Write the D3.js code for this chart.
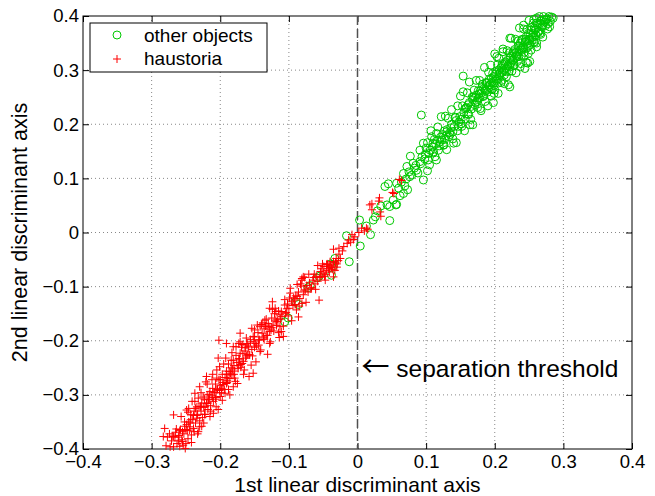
<!DOCTYPE html>
<html>
<head>
<meta charset="utf-8">
<script src="https://cdn.jsdelivr.net/npm/d3@7"></script>
<style>
  body { margin: 0; background: #fff; }
  svg text { font-family: "Liberation Sans", Arial, Helvetica, sans-serif; fill: #000; }
</style>
</head>
<body>
<div id="chart"></div>
<script>
// data: [1st axis, 2nd axis]
var otherObjects = [
  [-0.106,-0.165],[-0.101,-0.158],[-0.090,-0.128],[-0.086,-0.133],[-0.072,-0.102],[-0.069,-0.098],
  [-0.059,-0.084],[-0.056,-0.081],[-0.038,-0.079],[-0.035,-0.061],[-0.039,-0.058],[-0.033,-0.048],
  [-0.012,-0.054],[-0.016,-0.006],[0.004,-0.025],[0.019,-0.004],[0.013,0.012],[0.003,0.023],
  [0.026,0.029],[0.034,0.049],[0.043,0.051],[0.056,0.051],[0.047,0.022],[0.023,0.023],
  [0.029,0.040],[0.040,0.085],[0.045,0.090],[0.057,0.091],[0.052,0.060],[0.057,0.052],
  [0.047,0.048],[0.062,0.068],[0.067,0.072],[0.073,0.079],[0.067,0.109],[0.072,0.122],
  [0.076,0.103],[0.081,0.128],[0.077,0.141],[0.086,0.115],[0.091,0.131],[0.096,0.097],
  [0.102,0.114],[0.103,0.134],[0.091,0.152],[0.096,0.165],[0.100,0.156],[0.093,0.217],
  [0.110,0.165],[0.108,0.177],[0.113,0.140],[0.115,0.183],[0.118,0.152],[0.123,0.171],
  [0.126,0.162],[0.130,0.186],[0.133,0.177],[0.128,0.215],[0.136,0.193],[0.140,0.165],
  [0.060,0.082],[0.064,0.093],[0.069,0.086],[0.071,0.099],[0.075,0.112],[0.079,0.106],
  [0.083,0.119],[0.085,0.124],[0.088,0.110],[0.092,0.127],[0.094,0.140],[0.098,0.136],
  [0.099,0.145],[0.104,0.146],[0.106,0.152],[0.109,0.158],[0.111,0.149],[0.114,0.163],
  [0.116,0.170],[0.119,0.160],[0.121,0.176],[0.124,0.181],[0.127,0.172],[0.129,0.179],
  [0.131,0.190],[0.134,0.184],[0.137,0.200],[0.139,0.186],[0.143,0.213],[0.147,0.196],
  [0.141,0.196],[0.144,0.207],[0.146,0.188],[0.149,0.214],[0.151,0.201],[0.154,0.260],
  [0.154,0.289],[0.155,0.222],[0.157,0.210],[0.159,0.231],[0.161,0.219],[0.163,0.240],
  [0.164,0.199],[0.166,0.228],[0.168,0.245],[0.169,0.251],[0.171,0.236],[0.173,0.254],
  [0.174,0.242],[0.176,0.262],[0.178,0.249],[0.179,0.229],[0.181,0.258],[0.182,0.270],
  [0.184,0.253],[0.186,0.264],[0.187,0.277],[0.189,0.259],[0.191,0.271],[0.192,0.283],
  [0.194,0.266],[0.195,0.252],[0.196,0.278],[0.198,0.240],[0.198,0.288],[0.199,0.272],
  [0.200,0.263],[0.201,0.293],[0.203,0.283],[0.203,0.325],[0.205,0.276],[0.206,0.300],
  [0.207,0.289],[0.209,0.304],[0.210,0.281],[0.211,0.296],[0.212,0.334],[0.213,0.310],
  [0.214,0.291],[0.216,0.303],[0.217,0.288],[0.218,0.318],[0.219,0.307],[0.221,0.298],
  [0.222,0.269],[0.222,0.306],[0.222,0.359],[0.223,0.325],[0.224,0.314],[0.226,0.331],
  [0.227,0.319],[0.228,0.308],[0.229,0.338],[0.231,0.327],[0.232,0.325],[0.233,0.316],
  [0.234,0.345],[0.235,0.334],[0.237,0.306],[0.237,0.350],[0.238,0.339],[0.239,0.327],
  [0.240,0.357],[0.242,0.343],[0.242,0.383],[0.243,0.333],[0.244,0.303],[0.245,0.352],
  [0.246,0.362],[0.247,0.341],[0.248,0.313],[0.249,0.331],[0.249,0.368],[0.250,0.355],
  [0.251,0.316],[0.252,0.347],[0.253,0.374],[0.254,0.360],[0.256,0.368],[0.256,0.387],
  [0.257,0.352],[0.258,0.378],[0.260,0.365],[0.261,0.350],[0.261,0.396],[0.262,0.384],
  [0.264,0.372],[0.266,0.368],[0.267,0.391],[0.269,0.380],[0.270,0.383],[0.271,0.399],
  [0.273,0.389],[0.275,0.393],[0.278,0.386],[0.280,0.380],[0.283,0.398],[0.285,0.396],
  [0.102,0.166],[0.105,0.125],[0.107,0.188],[0.110,0.147],[0.112,0.172],[0.115,0.134],
  [0.117,0.195],[0.120,0.167],[0.122,0.214],[0.125,0.161],[0.127,0.188],[0.130,0.153],
  [0.132,0.211],[0.135,0.181],[0.137,0.227],[0.139,0.173],[0.142,0.212],[0.144,0.166],
  [0.146,0.234],[0.148,0.204],[0.150,0.252],[0.152,0.196],[0.153,0.234],[0.156,0.188],
  [0.158,0.230],[0.160,0.258],[0.162,0.218],[0.163,0.278],[0.165,0.209],[0.167,0.250],
  [0.168,0.199],[0.170,0.263],[0.172,0.240],[0.173,0.281],[0.175,0.231],[0.177,0.256],
  [0.178,0.281],[0.180,0.225],[0.182,0.274],[0.183,0.251],[0.185,0.305],[0.186,0.242],
  [0.188,0.276],[0.190,0.234],[0.191,0.296],[0.193,0.273],[0.194,0.309],[0.196,0.264],
  [0.197,0.294],[0.199,0.257],[0.200,0.330],[0.202,0.280],[0.204,0.310],[0.205,0.257],
  [0.206,0.322],[0.208,0.295],[0.209,0.277],[0.211,0.312],[0.212,0.339],[0.214,0.275],
  [0.215,0.312],[0.217,0.297],[0.218,0.336],[0.220,0.273],[0.221,0.332],[0.223,0.312],
  [0.224,0.359],[0.225,0.298],[0.227,0.334],[0.228,0.309],[0.230,0.357],[0.231,0.295],
  [0.232,0.334],[0.234,0.354],[0.235,0.325],[0.236,0.378],[0.238,0.312],[0.239,0.355],
  [0.241,0.341],[0.242,0.376],[0.243,0.327],[0.245,0.357],[0.246,0.314],[0.247,0.375],
  [0.249,0.344],[0.250,0.392],[0.251,0.358],[0.253,0.337],[0.254,0.379],[0.255,0.356],
  [0.257,0.394],[0.258,0.351],[0.259,0.374],[0.261,0.343],[0.262,0.387],[0.264,0.371],
  [0.265,0.399],[0.267,0.366],[0.268,0.391],[0.270,0.361],[0.272,0.393],[0.274,0.382],
  [0.276,0.395],[0.277,0.376],[0.279,0.399],[0.281,0.390],
  [0.151,0.209],[0.157,0.228],[0.161,0.236],[0.166,0.233],[0.171,0.249],[0.176,0.248],
  [0.179,0.262],[0.184,0.266],[0.187,0.262],[0.189,0.277],[0.192,0.268],[0.195,0.285],
  [0.198,0.276],[0.201,0.284],[0.203,0.299],[0.207,0.292],[0.210,0.307],[0.213,0.299],
  [0.216,0.315],[0.219,0.308],[0.222,0.322],[0.226,0.318],[0.229,0.331],[0.233,0.327],
  [0.236,0.344],[0.240,0.337],[0.244,0.352],[0.248,0.349],[0.252,0.366],[0.256,0.361],
  [0.260,0.377],[0.263,0.369],[0.266,0.386]
];

var haustoria = [
  [0.064,0.096],[0.061,0.098],[0.051,0.074],[0.053,0.072],[0.032,0.064],[0.031,0.058],
  [0.021,0.053],[0.021,0.042],[0.033,0.038],[0.034,0.030],[0.018,0.051],[0.015,0.006],
  [0.013,0.008],[0.010,0.003],[-0.004,-0.008],[-0.006,-0.013],[-0.013,-0.014],[-0.015,-0.020],
  [-0.020,-0.026],[-0.027,-0.029],[-0.035,-0.031],[-0.025,-0.048],[-0.028,-0.052],[-0.032,-0.056],
  [-0.035,-0.054],[-0.040,-0.060],[-0.038,-0.065],[-0.043,-0.062],[-0.045,-0.070],[-0.041,-0.073],
  [-0.036,-0.068],[-0.030,-0.064],[-0.047,-0.078],[-0.035,-0.082],[-0.047,-0.088],[-0.050,-0.075],
  [-0.053,-0.081],[-0.056,-0.125],[-0.079,-0.082],[-0.081,-0.088],[-0.077,-0.083],[-0.081,-0.085],
  [-0.058,-0.090],[-0.062,-0.095],[-0.065,-0.088],[-0.067,-0.102],[-0.070,-0.093],[-0.072,-0.110],
  [-0.074,-0.098],[-0.076,-0.106],[-0.083,-0.095],[-0.086,-0.110],[-0.090,-0.117],[-0.060,-0.081],
  [-0.063,-0.077],[-0.052,-0.067],[-0.054,-0.072],[-0.049,-0.063],
  [-0.030,-0.058],[-0.033,-0.070],[-0.037,-0.062],[-0.040,-0.054],[-0.042,-0.067],[-0.044,-0.058],
  [-0.031,-0.048],[-0.027,-0.040],[-0.022,-0.034],[-0.010,-0.018],[-0.008,-0.004],[0.002,0.000],
  [0.006,0.008],
  [-0.098,-0.103],[-0.098,-0.112],[-0.079,-0.115],[-0.081,-0.131],[-0.089,-0.143],[-0.086,-0.156],
  [-0.084,-0.122],[-0.088,-0.118],[-0.092,-0.125],[-0.094,-0.135],[-0.096,-0.128],[-0.100,-0.140],
  [-0.102,-0.132],[-0.104,-0.148],[-0.106,-0.134],[-0.108,-0.192],[-0.110,-0.155],[-0.111,-0.183],
  [-0.113,-0.152],[-0.113,-0.174],[-0.115,-0.145],[-0.117,-0.160],[-0.118,-0.165],[-0.120,-0.162],
  [-0.121,-0.150],[-0.123,-0.171],[-0.124,-0.128],[-0.125,-0.158],[-0.126,-0.180],[-0.128,-0.140],
  [-0.128,-0.183],[-0.130,-0.168],[-0.132,-0.174],[-0.133,-0.190],[-0.135,-0.162],[-0.136,-0.178],
  [-0.137,-0.195],[-0.139,-0.186],[-0.140,-0.170],[-0.142,-0.174],[-0.142,-0.220],[-0.144,-0.199],
  [-0.145,-0.185],[-0.147,-0.210],[-0.149,-0.205],[-0.150,-0.193],[-0.152,-0.192],[-0.152,-0.260],
  [-0.154,-0.177],[-0.154,-0.216],[-0.156,-0.202],[-0.158,-0.226],[-0.159,-0.211],[-0.161,-0.205],
  [-0.161,-0.208],[-0.163,-0.232],[-0.164,-0.219],[-0.166,-0.238],[-0.167,-0.224],[-0.169,-0.212],
  [-0.170,-0.244],[-0.171,-0.186],[-0.171,-0.202],[-0.171,-0.223],[-0.173,-0.233],[-0.174,-0.251],
  [-0.176,-0.240],[-0.177,-0.227],[-0.179,-0.256],[-0.180,-0.246],[-0.181,-0.211],[-0.181,-0.236],
  [-0.181,-0.285],[-0.183,-0.263],[-0.184,-0.250],[-0.186,-0.270],[-0.187,-0.257],[-0.188,-0.243],
  [-0.190,-0.274],[-0.191,-0.205],[-0.191,-0.262],[-0.191,-0.279],[-0.193,-0.268],[-0.194,-0.290],
  [-0.196,-0.277],[-0.197,-0.262],[-0.198,-0.296],[-0.200,-0.283],[-0.200,-0.303],[-0.202,-0.199],
  [-0.202,-0.272],[-0.203,-0.232],[-0.204,-0.290],[-0.205,-0.254],[-0.206,-0.305],[-0.207,-0.280],
  [-0.208,-0.296],[-0.210,-0.312],[-0.210,-0.334],[-0.211,-0.288],[-0.212,-0.302],[-0.214,-0.320],
  [-0.215,-0.294],[-0.216,-0.309],[-0.218,-0.327],[-0.219,-0.300],[-0.220,-0.266],[-0.220,-0.316],
  [-0.222,-0.336],[-0.223,-0.308],[-0.224,-0.323],[-0.226,-0.342],[-0.227,-0.315],[-0.228,-0.330],
  [-0.230,-0.285],[-0.230,-0.348],[-0.230,-0.359],[-0.231,-0.322],[-0.232,-0.368],[-0.234,-0.322],
  [-0.234,-0.338],[-0.236,-0.352],[-0.237,-0.297],[-0.238,-0.330],[-0.239,-0.362],[-0.240,-0.345],
  [-0.242,-0.374],[-0.243,-0.336],[-0.244,-0.359],[-0.246,-0.350],[-0.247,-0.381],[-0.248,-0.366],
  [-0.249,-0.328],[-0.250,-0.390],[-0.251,-0.399],[-0.252,-0.358],[-0.253,-0.372],[-0.255,-0.386],
  [-0.256,-0.383],[-0.258,-0.364],[-0.259,-0.395],[-0.261,-0.378],[-0.263,-0.390],[-0.265,-0.369],
  [-0.268,-0.337],[-0.268,-0.377],[-0.268,-0.396],[-0.271,-0.385],[-0.274,-0.372],[-0.281,-0.362],
  [-0.283,-0.377],
  [-0.045,-0.059],[-0.048,-0.081],[-0.051,-0.058],[-0.055,-0.083],[-0.058,-0.061],[-0.061,-0.105],
  [-0.064,-0.083],[-0.068,-0.104],[-0.071,-0.077],[-0.075,-0.129],[-0.078,-0.108],[-0.082,-0.099],
  [-0.085,-0.136],[-0.088,-0.096],[-0.091,-0.133],[-0.093,-0.121],[-0.096,-0.163],[-0.099,-0.121],
  [-0.101,-0.154],[-0.103,-0.141],[-0.106,-0.124],[-0.108,-0.173],[-0.111,-0.146],[-0.114,-0.194],
  [-0.116,-0.164],[-0.119,-0.146],[-0.122,-0.182],[-0.124,-0.142],[-0.127,-0.202],[-0.129,-0.174],
  [-0.131,-0.225],[-0.134,-0.173],[-0.136,-0.198],[-0.138,-0.167],[-0.141,-0.217],[-0.143,-0.198],
  [-0.146,-0.171],[-0.148,-0.239],[-0.151,-0.202],[-0.153,-0.228],[-0.156,-0.198],[-0.158,-0.266],
  [-0.160,-0.226],[-0.163,-0.213],[-0.165,-0.254],[-0.168,-0.207],[-0.170,-0.249],[-0.172,-0.234],
  [-0.175,-0.279],[-0.177,-0.211],[-0.179,-0.269],[-0.182,-0.252],[-0.184,-0.236],[-0.186,-0.300],
  [-0.189,-0.269],[-0.191,-0.256],[-0.193,-0.297],[-0.195,-0.243],[-0.198,-0.288],[-0.200,-0.272],
  [-0.203,-0.327],[-0.205,-0.269],[-0.207,-0.308],[-0.209,-0.295],[-0.212,-0.272],[-0.214,-0.330],
  [-0.216,-0.299],[-0.218,-0.315],[-0.221,-0.276],[-0.223,-0.336],[-0.225,-0.304],[-0.227,-0.358],
  [-0.229,-0.322],[-0.232,-0.306],[-0.234,-0.343],[-0.236,-0.325],[-0.238,-0.368],[-0.241,-0.312],
  [-0.243,-0.346],[-0.245,-0.365],[-0.247,-0.332],[-0.250,-0.364],[-0.252,-0.350],[-0.254,-0.393],
  [-0.257,-0.340],[-0.259,-0.366],[-0.261,-0.385],[-0.264,-0.363],[-0.266,-0.378],[-0.270,-0.376],
  [-0.273,-0.396],[-0.277,-0.378],[-0.279,-0.394],
  [-0.105,-0.150],[-0.112,-0.160],[-0.118,-0.172],[-0.125,-0.176],[-0.131,-0.190],[-0.137,-0.193],
  [-0.144,-0.208],[-0.150,-0.212],[-0.157,-0.226],[-0.162,-0.228],[-0.168,-0.242],[-0.174,-0.246],
  [-0.180,-0.262],[-0.185,-0.260],[-0.190,-0.277],[-0.196,-0.281],[-0.201,-0.292],[-0.206,-0.291],
  [-0.211,-0.305],[-0.217,-0.308],[-0.222,-0.322],[-0.228,-0.321],[-0.233,-0.336],[-0.239,-0.338],
  [-0.244,-0.352],[-0.249,-0.355],[-0.255,-0.368],[-0.260,-0.375],
  [-0.150,-0.180],[-0.155,-0.245],[-0.162,-0.195],[-0.166,-0.262],[-0.173,-0.205],[-0.178,-0.275],
  [-0.183,-0.222],[-0.188,-0.290],[-0.192,-0.232],[-0.197,-0.310],[-0.201,-0.248],[-0.206,-0.322],
  [-0.211,-0.262],[-0.215,-0.340],[-0.219,-0.280],[-0.224,-0.352],[-0.228,-0.296],[-0.233,-0.372],
  [-0.237,-0.312],[-0.242,-0.388],[-0.246,-0.325],[-0.133,-0.160],[-0.128,-0.205],[-0.120,-0.140],
  [-0.115,-0.185]
];

var xTicks = [-0.4, -0.3, -0.2, -0.1, 0, 0.1, 0.2, 0.3, 0.4];
var yTicks = [-0.4, -0.3, -0.2, -0.1, 0, 0.1, 0.2, 0.3, 0.4];
var legendLabels = ["other objects", "haustoria"];
var threshold = 0;

var W = 655, H = 496,
    margin = { top: 16, right: 23, bottom: 47, left: 83 },
    width = W - margin.left - margin.right,
    height = H - margin.top - margin.bottom;

var green = "#00c800", red = "#ff0000";

var svg = d3.select("#chart").append("svg")
    .attr("width", W)
    .attr("height", H);

var g = svg.append("g")
    .attr("transform", "translate(" + margin.left + "," + margin.top + ")");

var x = d3.scaleLinear().domain([-0.4, 0.4]).range([0, width]),
    y = d3.scaleLinear().domain([-0.4, 0.4]).range([height, 0]);

var fmt = function (d) { return d === 0 ? "0" : (d < 0 ? "\u2212" : "") + Math.abs(d).toFixed(1); };

// grid
g.append("g").selectAll("line").data(xTicks.slice(1, -1)).enter().append("line")
    .attr("x1", function (d) { return x(d); }).attr("x2", function (d) { return x(d); })
    .attr("y1", 0).attr("y2", height)
    .attr("stroke", "#888").attr("stroke-width", 1).attr("stroke-dasharray", "1,3");
g.append("g").selectAll("line").data(yTicks.slice(1, -1)).enter().append("line")
    .attr("y1", function (d) { return y(d); }).attr("y2", function (d) { return y(d); })
    .attr("x1", 0).attr("x2", width)
    .attr("stroke", "#888").attr("stroke-width", 1).attr("stroke-dasharray", "1,3");

// axes (ticks pointing inward, box on)
var bottom = g.append("g").attr("transform", "translate(0," + height + ")")
    .call(d3.axisBottom(x).tickValues(xTicks).tickSizeInner(-6).tickSizeOuter(0).tickPadding(6).tickFormat(fmt));
var left = g.append("g")
    .call(d3.axisLeft(y).tickValues(yTicks).tickSizeInner(-6).tickSizeOuter(0).tickPadding(4).tickFormat(fmt));
g.append("g")
    .call(d3.axisTop(x).tickValues(xTicks).tickSizeInner(-6).tickSizeOuter(0).tickFormat(""));
g.append("g").attr("transform", "translate(" + width + ",0)")
    .call(d3.axisRight(y).tickValues(yTicks).tickSizeInner(-6).tickSizeOuter(0).tickFormat(""));
g.selectAll(".domain").remove();
g.selectAll(".tick line").attr("stroke", "#000");
g.selectAll(".tick text").style("font-size", "18.5px").attr("fill", "#000");

g.append("rect")
    .attr("width", width).attr("height", height)
    .attr("fill", "none").attr("stroke", "#000").attr("stroke-width", 1);

// separation threshold
g.append("line")
    .attr("x1", x(threshold)).attr("x2", x(threshold))
    .attr("y1", 0).attr("y2", height)
    .attr("stroke", "#505050").attr("stroke-width", 1.5).attr("stroke-dasharray", "9,4");

// markers
g.append("g").selectAll("circle").data(otherObjects).enter().append("circle")
    .attr("cx", function (d) { return x(d[0]); })
    .attr("cy", function (d) { return y(d[1]); })
    .attr("r", 4)
    .attr("fill", "none").attr("stroke", green).attr("stroke-width", 1);

g.append("g").selectAll("path").data(haustoria).enter().append("path")
    .attr("d", function (d) {
        var px = x(d[0]), py = y(d[1]);
        return "M" + (px - 4) + "," + py + "H" + (px + 4) + "M" + px + "," + (py - 4) + "V" + (py + 4);
    })
    .attr("fill", "none").attr("stroke", red).attr("stroke-width", 1);

var note = g.append("text")
    .attr("x", x(threshold) + 4).attr("y", 361)
    .style("font-size", "24.5px");
note.append("tspan").style("font-family", "'Noto Sans CJK SC'").style("font-size", "28px")
    .text("\u2190");
note.append("tspan").text(" separation threshold");

// legend
var lg = svg.append("g").attr("transform", "translate(90,23)");
lg.append("rect").attr("width", 177).attr("height", 49)
    .attr("fill", "#fff").attr("stroke", "#000").attr("stroke-width", 1);
lg.append("circle").attr("cx", 27).attr("cy", 12).attr("r", 4)
    .attr("fill", "none").attr("stroke", green);
lg.append("path").attr("d", "M23,36H31M27,32V40")
    .attr("fill", "none").attr("stroke", red);
lg.selectAll("text.lab").data(legendLabels).enter().append("text")
    .attr("class", "lab")
    .attr("x", 54).attr("y", function (d, i) { return 19 + i * 23; })
    .style("font-size", "19px")
    .text(function (d) { return d; });

// axis labels
svg.append("text")
    .attr("x", margin.left + width / 2).attr("y", 491.5)
    .attr("text-anchor", "middle")
    .style("font-size", "21px")
    .text("1st linear discriminant axis");
svg.append("text")
    .attr("transform", "translate(27," + (margin.top + height / 2) + ") rotate(-90)")
    .attr("text-anchor", "middle")
    .style("font-size", "21.5px")
    .text("2nd linear discriminant axis");
</script>
</body>
</html>
